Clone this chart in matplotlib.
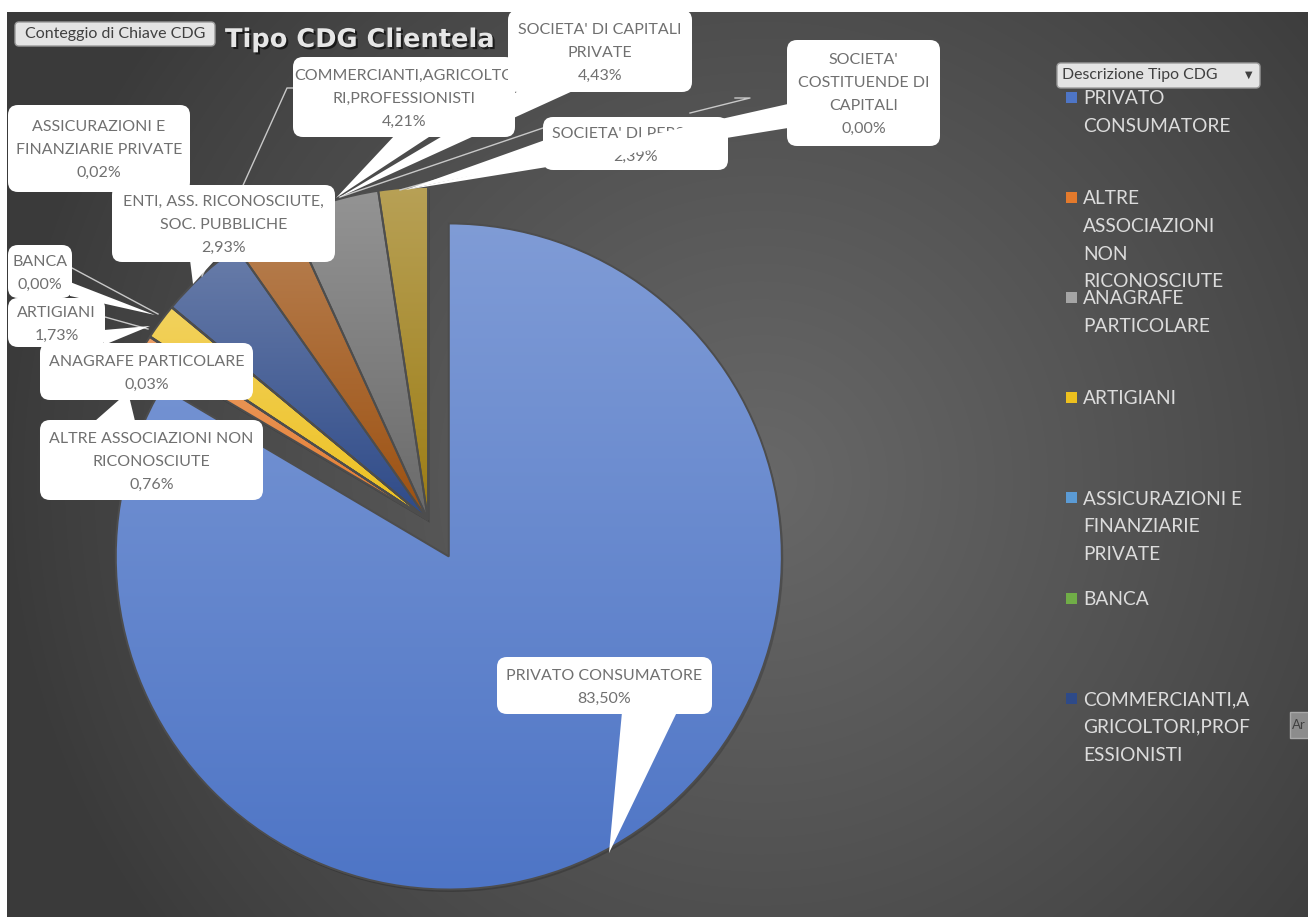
import numpy as np
import matplotlib.pyplot as plt
import matplotlib.patheffects as pe
from matplotlib.patches import FancyBboxPatch, Polygon, Rectangle, Wedge
from matplotlib.colors import to_rgb

plt.rcParams['font.family'] = ['Lato', 'DejaVu Sans']

W, H = 1308, 917

categories = ["PRIVATO CONSUMATORE", "ALTRE ASSOCIAZIONI NON RICONOSCIUTE",
              "ANAGRAFE PARTICOLARE", "ARTIGIANI",
              "ASSICURAZIONI E FINANZIARIE PRIVATE", "BANCA",
              "COMMERCIANTI,AGRICOLTORI,PROFESSIONISTI",
              "ENTI, ASS. RICONOSCIUTE, SOC. PUBBLICHE",
              "SOCIETA' DI CAPITALI PRIVATE", "SOCIETA' DI PERSONE",
              "SOCIETA' COSTITUENDE DI CAPITALI"]
shares = [83.50, 0.76, 0.03, 1.73, 0.02, 0.00, 4.21, 2.93, 4.43, 2.39, 0.00]

# names as they wrap in the callouts and in the legend
callout_names = ["PRIVATO CONSUMATORE", "ALTRE ASSOCIAZIONI NON\nRICONOSCIUTE",
                 "ANAGRAFE PARTICOLARE", "ARTIGIANI",
                 "ASSICURAZIONI E\nFINANZIARIE PRIVATE", "BANCA",
                 "COMMERCIANTI,AGRICOLTO\nRI,PROFESSIONISTI",
                 "ENTI, ASS. RICONOSCIUTE,\nSOC. PUBBLICHE",
                 "SOCIETA' DI CAPITALI\nPRIVATE", "SOCIETA' DI PERSONE",
                 "SOCIETA'\nCOSTITUENDE DI\nCAPITALI"]
legend_names = ["PRIVATO\nCONSUMATORE", "ALTRE\nASSOCIAZIONI\nNON\nRICONOSCIUTE",
                "ANAGRAFE\nPARTICOLARE", "ARTIGIANI",
                "ASSICURAZIONI E\nFINANZIARIE\nPRIVATE", "BANCA",
                "COMMERCIANTI,A\nGRICOLTORI,PROF\nESSIONISTI"]

colors = ['#4e75c6', '#e47a2c', '#a5a5a5', '#edc01e', '#5b9bd5', '#70ad47',
          '#2e4a88', '#9c5010', '#6a6a6a', '#9c7c14', '#255e91']


def mix(c, other, t):
    a = np.array(to_rgb(c))
    b = np.array(to_rgb(other))
    return a * (1 - t) + b * t


def lines_text(x, yc, text, step, fs, color, ha='center', z=5):
    rows = text.split('\n')
    cap = 0.72 * fs * 100 / 72
    for i, row in enumerate(rows):
        y = yc + (i - (len(rows) - 1) / 2) * step
        ax.text(x, y + cap / 2, row, ha=ha, va='baseline', fontsize=fs,
                color=color, zorder=z)


fig = plt.figure(figsize=(W / 100, H / 100), dpi=100)
fig.patch.set_facecolor('white')
ax = fig.add_axes([0, 0, 1, 1])

# dark background with a soft lighter zone
yy, xx = np.mgrid[12:H, 7:W]
d = np.hypot(xx - 760, yy - 480)
t = np.clip(1 - d / 760, 0, 1) ** 0.9
dark = np.array(to_rgb('#3a3a3a'))
light = np.array(to_rgb('#686868'))
bg = dark[None, None, :] + (light - dark)[None, None, :] * t[..., None]
ax.imshow(bg, extent=(7, W, H, 12), origin='upper', zorder=0, interpolation='bilinear')

R = 333
center = (428, 520)
explode = [42] + [0] * (len(shares) - 1)
wedges, _ = ax.pie(shares, colors=colors, startangle=-90, counterclock=True,
                   radius=R, center=center, explode=explode,
                   wedgeprops=dict(edgecolor='#4d4d4d', linewidth=1.4))

for w, c in zip(wedges, colors):
    if w.theta2 - w.theta1 < 1e-6:
        w.set_visible(False)
        continue
    sh = Wedge((w.center[0] + 1.5, w.center[1] + 2.5), w.r, w.theta1, w.theta2,
               fc='black', ec='none', alpha=0.18, zorder=1.5)
    ax.add_patch(sh)
    ext = w.get_path().get_extents()
    g = np.linspace(0, 1, 256)[:, None, None]
    img = mix(c, 'white', 0.28)[None, None, :] * (1 - g) + np.array(to_rgb(c))[None, None, :] * g
    im = ax.imshow(img, extent=(ext.x0, ext.x1, ext.y1, ext.y0), origin='upper',
                   aspect='auto', zorder=2, interpolation='bilinear')
    im.set_clip_path(w)
    w.set_facecolor('none')
    w.set_zorder(3)

# leader lines
lc = '#c8c8c8'
ax.plot([293, 287, 202], [88, 88, 276], color=lc, lw=1, zorder=4)
ax.plot([72, 158], [268, 314], color=lc, lw=1, zorder=4)
ax.plot([105, 148], [317, 329], color=lc, lw=1, zorder=4)
ax.plot([543, 340], [128, 197], color=lc, lw=1, zorder=4)
ax.plot([543, 400], [150, 190], color=lc, lw=1, zorder=4)
ax.plot([735, 750, 690], [98, 98, 113], color=lc, lw=1, zorder=4)

# title
ax.text(225, 47, "Tipo CDG Clientela", fontsize=18.5, fontweight='bold',
        family='DejaVu Sans', color='#e6e6e6', ha='left', va='baseline', zorder=4.5,
        path_effects=[pe.withSimplePatchShadow(offset=(1.5, -1.5), shadow_rgbFace='black', alpha=0.6)])

# callouts: (box, tail) in the order they stack
boxes = {
    4: ((8, 105, 190, 192), None),
    5: ((8, 245, 72, 298), [(70, 282), (70, 296), (155, 315)]),
    3: ((8, 298, 105, 347), [(104, 330), (104, 345), (150, 326)]),
    2: ((40, 343, 253, 400), None),
    1: ((40, 420, 263, 500), [(95, 421), (135, 421), (128, 392)]),
    7: ((112, 185, 335, 262), [(190, 260), (215, 260), (193, 284)]),
    6: ((293, 57, 515, 137), [(395, 135), (432, 135), (336, 198)]),
    9: ((543, 117, 728, 170), [(545, 140), (545, 160), (405, 190)]),
    8: ((508, 10, 692, 92), [(520, 90), (575, 90), (338, 198)]),
    10: ((787, 40, 940, 146), [(788, 104), (788, 128), (405, 190)]),
    0: ((497, 657, 712, 714), [(622, 712), (677, 712), (609, 853)]),
}
z = 5
for i, (box, tail) in boxes.items():
    x0, y0, x1, y1 = box
    if tail:
        ax.add_patch(Polygon(tail, closed=True, fc='white', ec='none', zorder=z))
    ax.add_patch(FancyBboxPatch((x0, y0), x1 - x0, y1 - y0,
                                boxstyle='round,pad=0,rounding_size=10',
                                fc='white', ec='none', zorder=z))
    pct = f"{shares[i]:.2f}".replace('.', ',') + '%'
    lines_text((x0 + x1) / 2, (y0 + y1) / 2, callout_names[i] + '\n' + pct,
               23, 11.5, '#707070', z=z + 0.1)
    z += 0.2

# buttons
ax.add_patch(FancyBboxPatch((15, 22), 200, 24, boxstyle='round,pad=0,rounding_size=4',
                            fc='#e4e4e4', ec='#9a9a9a', lw=1, zorder=8))
ax.text(115, 34, "Conteggio di Chiave CDG", ha='center', va='center', fontsize=11.5,
        color='#404040', zorder=8.1)
ax.add_patch(FancyBboxPatch((1057, 63), 203, 25, boxstyle='round,pad=0,rounding_size=4',
                            fc='#e4e4e4', ec='#9a9a9a', lw=1, zorder=8))
ax.text(1062, 75.5, "Descrizione Tipo CDG", ha='left', va='center', fontsize=11.4,
        color='#404040', zorder=8.1)
ax.text(1249, 75, "\u25bc", ha='center', va='center', fontsize=7, family='DejaVu Sans',
        color='#404040', zorder=8.1)

# legend (only the first entries fit)
for i, name in enumerate(legend_names):
    yc = 97 + i * 100.2
    ax.add_patch(Rectangle((1066, yc - 5.5), 11, 11, fc=colors[i], ec='none', zorder=6))
    rows = name.split('\n')
    for k, row in enumerate(rows):
        ax.text(1083, yc + k * 27.8 + 6.8, row, ha='left', va='baseline', fontsize=13.8,
                color='#dcdcdc', zorder=6)

# tooltip clipped at the right edge
ax.add_patch(Rectangle((1290, 712), 30, 26, fc='#8c8c8c', ec='#a8a8a8', lw=1, zorder=8))
ax.text(1292, 725, "Ar", ha='left', va='center', fontsize=9.5, color='#404040', zorder=8.1)

ax.set_xlim(0, W)
ax.set_ylim(H, 0)
ax.set_aspect('auto')
ax.axis('off')

fig.savefig('out.png', dpi=100, facecolor='white')
